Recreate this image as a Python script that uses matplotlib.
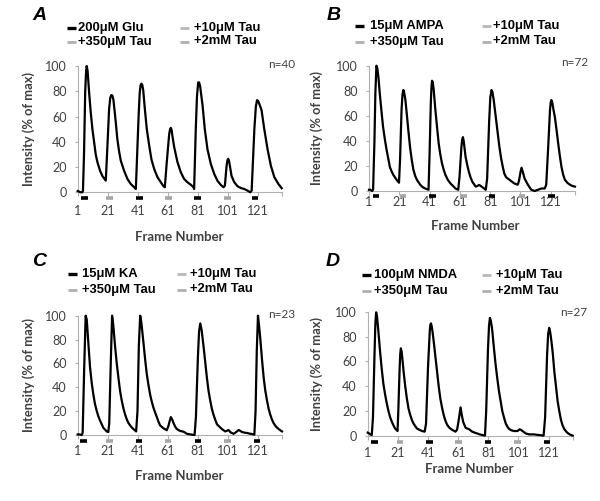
import matplotlib
matplotlib.use("Agg")
import matplotlib.pyplot as plt
from matplotlib.lines import Line2D

# frame number, intensity (% of max)
a_trace = [(1, 1), (2, 0.5), (3, 0), (4, 0), (4.5, 1), (5.2, 30), (6, 80), (6.6, 96), (7, 100),
           (7.6, 96), (8.6, 79), (9.7, 63), (10.8, 50), (11.9, 40), (13, 30), (14.1, 24),
           (15.9, 17), (17.4, 13), (19.2, 10), (19.7, 9.3), (20.8, 37), (21.9, 66), (22.7, 75),
           (23.4, 77), (24.1, 76.5), (24.8, 73), (26.3, 56), (27.4, 42), (28.6, 32), (29.7, 25),
           (31.9, 17), (34.1, 10.6), (36.3, 6.6), (38.6, 4), (39.7, 2.6), (40.8, 37), (41.6, 62),
           (42.3, 79), (42.9, 85), (43.4, 86), (44, 85), (44.6, 81), (45.7, 66), (47, 50),
           (48.6, 37), (50.1, 26), (51.9, 18.5), (54.1, 12), (56.3, 8), (58.1, 4.8), (59, 4),
           (60.3, 24), (61.9, 46), (62.5, 50), (63, 51), (63.5, 49.5), (64, 45), (65.2, 36),
           (67.4, 24), (69.6, 16), (71.8, 10.6), (74, 8), (76.3, 6), (78.1, 4), (78.5, 2.6),
           (79.6, 50), (80.4, 76), (81.2, 87), (81.8, 87), (82.5, 84), (84.1, 69), (85.6, 50),
           (87.4, 34), (89.6, 22.5), (91.9, 14.5), (94.1, 9), (96.3, 5.8), (98.1, 4), (99, 5.3),
           (100.1, 21), (100.7, 25.5), (101.2, 26.5), (101.7, 25), (102.3, 21), (103.4, 13),
           (105.2, 8), (107.4, 4.8), (109.6, 3.4), (111.9, 2.6), (114.1, 1.3), (115.9, 0),
           (116.8, 1.3), (118.6, 50), (119.6, 68), (120.4, 73), (121.2, 72), (121.9, 70),
           (123.4, 65), (125.2, 50), (127.4, 34), (129.6, 21), (131.9, 12), (134.6, 6.6),
           (136.8, 3.2)]

b_trace = [(1, 1), (2, 1), (3, 0), (3.7, 1), (4.6, 40), (5.2, 78), (5.9, 100), (6.5, 98),
           (7.2, 91), (8.1, 78), (9.2, 64), (10.3, 51), (11.5, 41), (12.6, 33), (13.7, 26),
           (14.8, 19), (16, 15.5), (17, 13), (18.1, 11), (19.2, 9), (20.8, 6.6), (21.5, 25),
           (22.5, 65), (23.1, 77), (23.7, 80.6), (24.3, 78), (25, 73), (25.9, 62), (27, 48),
           (28.1, 35), (29.2, 25), (30.3, 17), (31.5, 12), (32.6, 9), (34.8, 5), (36.5, 3),
           (38.1, 2), (40.3, 1), (41, 30), (41.8, 70), (42.2, 82), (42.6, 88), (43.1, 87),
           (43.7, 81), (44.8, 65), (46, 50), (47, 38), (48.1, 29), (49.2, 22), (50.3, 17),
           (51.4, 13), (53, 9), (54.8, 6), (56.5, 4), (58.1, 2), (59.9, 1), (60.8, 12), (62, 35),
           (62.5, 41), (63, 43), (63.5, 40), (64.2, 33), (64.8, 27), (66, 20), (67, 15), (68, 11),
           (69.2, 7.4), (70.3, 5.5), (71.4, 3.5), (72.5, 4), (73.7, 4.8), (74.8, 4), (75.9, 3),
           (77, 2), (78.1, 1), (79, 10), (80.3, 55), (81.1, 75), (81.9, 80.6), (82.5, 79),
           (83.3, 73), (84.8, 58), (86, 46), (87, 36), (88.1, 27), (89.2, 20), (90.3, 14),
           (91.5, 11), (93.7, 9), (95.3, 7.5), (97, 6), (99.2, 5), (100, 8), (101, 15),
           (101.7, 18.6), (102.6, 15), (103.7, 10), (104.8, 7.5), (105.9, 5), (107, 3), (108.1, 1),
           (110.3, 0), (112.6, 1), (114.8, 2), (117, 2), (118, 5), (119.3, 35), (120.5, 65),
           (121, 71), (121.4, 72.6), (122, 70.5), (122.7, 65.5), (123.7, 59), (124.8, 49),
           (125.9, 38), (127, 28), (128.1, 19), (129.2, 13), (130.3, 9), (132, 6.5), (133.7, 5),
           (135.3, 4), (137, 3.5)]

c_trace = [(1, 0.5), (2, 0.5), (3.7, 0), (4.3, 2), (5.3, 55), (6.3, 100), (7, 97), (8.1, 77),
           (9.2, 57), (10.3, 44), (11.4, 34), (12.5, 26), (13.7, 20), (14.8, 15.5), (15.9, 12),
           (17, 9), (18.1, 6), (19.2, 4.5), (20.3, 3), (21.4, 2.5), (22, 10), (23, 60), (23.9, 100),
           (24.7, 92), (25.9, 74), (27, 60), (28.1, 48), (29.2, 37), (30.3, 29), (31.5, 22),
           (32.6, 17), (33.7, 13), (34.8, 10), (36.5, 7), (38.1, 5), (39.9, 3), (40.8, 20),
           (41.7, 75), (42.6, 100), (43.4, 94), (44.8, 77), (46, 62), (47, 51), (48.1, 42),
           (49.2, 34), (50.3, 28), (51.4, 23), (52.5, 19), (53.7, 15), (54.8, 11), (55.9, 8),
           (58.1, 5.6), (60.3, 4), (61.4, 7.6), (62.3, 12), (63, 15), (63.9, 13), (64.8, 10),
           (65.9, 7), (67, 5), (69.2, 3.4), (71.4, 2.8), (72.5, 2), (73.7, 1), (77, 0.3), (78.8, 0),
           (79.7, 15), (81, 65), (81.8, 87), (82.6, 93.5), (83.5, 88), (84.8, 74), (86, 60),
           (87, 48), (88.1, 37), (89.2, 29), (90.3, 22), (91.4, 17), (92.5, 13), (93.7, 9),
           (95.3, 7), (97, 5), (99.2, 3), (100.3, 3.5), (101.4, 4.2), (102.2, 3), (103, 2),
           (104.8, 1), (106, 2), (107, 3), (108.1, 4.2), (109.2, 3.5), (110.3, 2.5), (112, 2),
           (113.7, 1.7), (115.3, 1.2), (117, 0.8), (118.6, 0.3), (119.4, 20), (120.2, 70),
           (121, 100), (121.7, 92), (122.6, 80), (123.7, 63), (124.8, 48), (125.9, 37), (127, 29),
           (128.1, 22), (129.2, 17), (130.3, 13), (131.4, 10), (133, 7), (134.8, 5), (136, 3.8),
           (137, 3)]

d_trace = [(1, 2.7), (2, 2), (2.6, 1.3), (3.7, 0.8), (4.5, 15), (5.5, 65), (6.1, 91), (6.6, 99.5),
           (7.2, 96), (8.1, 84), (9.2, 68), (10.3, 54), (11.4, 42), (12.6, 33), (13.7, 26),
           (14.8, 20), (15.9, 15), (17, 11.5), (18.1, 8.5), (19.2, 6), (20.8, 4), (21.3, 20),
           (22.2, 55), (22.6, 66), (23, 70.5), (23.5, 68), (24.1, 61), (24.8, 52), (25.9, 40),
           (27, 30), (28.1, 22), (29.2, 17), (30.3, 13), (31.4, 10), (32.5, 8), (33.7, 6),
           (35.3, 5), (37, 4), (38.8, 3.5), (39.7, 10), (41, 55), (42.2, 85), (42.6, 89.5),
           (43, 90.6), (43.5, 88), (44.1, 83), (44.8, 76), (45.9, 64), (47, 52), (48.1, 40),
           (49.2, 30), (50.3, 23), (51.4, 17), (52.5, 12.5), (53.7, 9), (55.3, 6.5), (57, 5),
           (59.2, 3.5), (60.3, 5), (61.4, 13), (62.6, 23), (63.4, 17), (64.3, 11.5), (65.9, 6.7),
           (67, 6), (68.1, 5.6), (70.3, 3.5), (72, 2.7), (73.7, 2), (75.3, 1.3), (77, 0.8),
           (78.8, 0.3), (79.6, 20), (80.8, 70), (81.5, 89), (82.1, 95), (82.7, 92.5), (83.3, 88),
           (83.7, 84), (84.8, 70), (85.9, 57), (87, 46), (88.1, 36), (89.2, 28), (90.3, 20),
           (91.4, 15), (92.6, 10), (93.7, 7.5), (94.8, 5.6), (96.5, 4.5), (98.1, 4), (100.3, 4),
           (101.9, 5.4), (102.8, 4.8), (103.7, 4), (104.8, 3), (105.9, 2), (108.1, 1.3),
           (111.4, 1.3), (113, 1), (114.8, 0.8), (117.7, 0.3), (118.7, 15), (120, 65),
           (120.7, 82), (121.4, 87), (122, 84), (122.6, 79), (123.2, 73), (123.9, 65), (124.8, 52),
           (125.9, 40), (127, 28), (128.1, 20), (129.2, 13), (130.3, 8.5), (131.4, 5.6),
           (132.7, 3.5), (134.1, 2), (135.5, 1), (137, 0.3)]

# application periods (start frame) drawn as bars under the axis
a_bars = [3.2, 20, 39.9, 59.2, 78.7, 98.5, 116.9]
b_bars = [3.4, 21.2, 40.6, 61.2, 79.9, 99.9, 119.4]
c_bars = [2.6, 19.9, 39.7, 58.8, 78.8, 98.6, 118.1]
d_bars = [3.2, 20.3, 39.7, 59.2, 78.6, 98.1, 117.7]
bar_len = 4.4
bar_cols = ["black", "#a6a6a6", "black", "#a6a6a6", "black", "#a6a6a6", "black"]

letters = ["A", "B", "C", "D"]
agonists = ["200\u03bcM Glu", "15\u03bcM AMPA", "15\u03bcM KA", "100\u03bcM NMDA"]
taus = ["+10\u03bcM Tau", "+350\u03bcM Tau", "+2mM Tau"]
n_cells = ["n=40", "n=72", "n=23", "n=27"]
xticks = [1, 21, 41, 61, 81, 101, 121]
yticks = [0, 20, 40, 60, 80, 100]

W, H = 600, 501
fig = plt.figure(figsize=(6, 5.01), dpi=100)


def fx(p):
    return p / W


def fy(p):
    return 1 - p / H


# pixel layout: x of frame 1, x of right end, y of 100, y of 0
boxes = [(77.7, 282, 66, 192.3), (369, 575, 65.7, 191),
         (77.7, 282, 315.7, 435), (367.7, 572.7, 311.7, 436)]
xpads = [6.5, 0.5, 4.5, 5]
bar_off = [6, 5, 5.5, 6]
xlab_pos = [(179, 237), (475, 226), (179, 476), (469, 469)]
ylab_x = [28.3, 316.7, 28.3, 316.7]
letter_pos = [(39, 16), (334, 15), (39, 262), (333, 262)]
n_pos = [(295, 65), (588, 63), (295, 315), (587, 312)]
# legend: y of row1/row2, col1 marker x, col1 text x, col2 marker x, col2 text x
leg = [(27.5, 41.5, 67, 78.5, 180, 194),
       (26, 41.5, 355, 370, 482, 493),
       (274, 289.5, 68, 81.5, 177, 190),
       (275, 291, 362, 374, 482, 496.5)]

traces = [a_trace, b_trace, c_trace, d_trace]
bars = [a_bars, b_bars, c_bars, d_bars]
tfont = "Lato"
axcol = "#b0b0b0"
txtcol = "#404040"

for i in range(4):
    x0, x1, ytop, ybot = boxes[i]
    ax = fig.add_axes([fx(x0), fy(ybot), (x1 - x0) / W, (ybot - ytop) / H])
    fr = [p[0] for p in traces[i]]
    val = [p[1] for p in traces[i]]
    ax.plot(fr, val, color="black", lw=1.6, clip_on=False, zorder=3,
            solid_joinstyle="round")
    ax.set_xlim(1, 137)
    ax.set_ylim(0, 100)
    yb = -bar_off[i] / (ybot - ytop)
    for s, c in zip(bars[i], bar_cols):
        ax.plot([s, s + bar_len], [yb, yb], color=c, lw=2.6, solid_capstyle="butt",
                transform=ax.get_xaxis_transform(), clip_on=False)
    for sp in ["top", "right"]:
        ax.spines[sp].set_visible(False)
    for sp in ["left", "bottom"]:
        ax.spines[sp].set_color(axcol)
        ax.spines[sp].set_linewidth(0.8)
    ax.set_xticks(xticks + [137])
    ax.set_xticklabels([str(t) for t in xticks] + [""])
    ax.set_yticks(yticks)
    ax.tick_params(axis="x", length=3, width=0.8, color=axcol, pad=xpads[i],
                   labelsize=9, labelcolor=txtcol)
    ax.tick_params(axis="y", length=2.5, width=0.8, color=axcol, pad=5.5,
                   labelsize=9, labelcolor=txtcol)
    for lab in ax.get_xticklabels() + ax.get_yticklabels():
        lab.set_family(tfont)

    fig.text(fx(xlab_pos[i][0]), fy(xlab_pos[i][1]), "Frame Number", ha="center", va="center",
             family=tfont, weight="bold", size=9.5, color=txtcol)
    fig.text(fx(ylab_x[i]), fy((ytop + ybot) / 2), "Intensity (% of max)", ha="center",
             va="center", rotation=90, family=tfont, weight="bold", size=9.3, color=txtcol)
    fig.text(fx(letter_pos[i][0]), fy(letter_pos[i][1]), letters[i], ha="center", va="center",
             family="Liberation Sans", weight="bold", style="italic", size=14)
    fig.text(fx(n_pos[i][0]), fy(n_pos[i][1]), n_cells[i], ha="right", va="center",
             family=tfont, size=8.5, color=txtcol)

    r1, r2, m1, t1, m2, t2 = leg[i]
    items = [(agonists[i], "black", m1, t1, r1),
             (taus[0], "#b8b8b8", m2, t2, r1),
             (taus[1], "#b0b0b0", m1, t1, r2),
             (taus[2], "#b0b0b0", m2, t2, r2)]
    for txt, c, mx, tx, ry in items:
        lw = 2.4 if c == "black" else 2.0
        fig.add_artist(Line2D([fx(mx), fx(mx + 8.5)], [fy(ry), fy(ry)], color=c, lw=lw,
                              solid_capstyle="butt", transform=fig.transFigure))
        fig.text(fx(tx), fy(ry), txt, ha="left", va="center", family="Liberation Sans",
                 weight="bold", size=9.4, color="black")

fig.savefig("out.png", dpi=100)
